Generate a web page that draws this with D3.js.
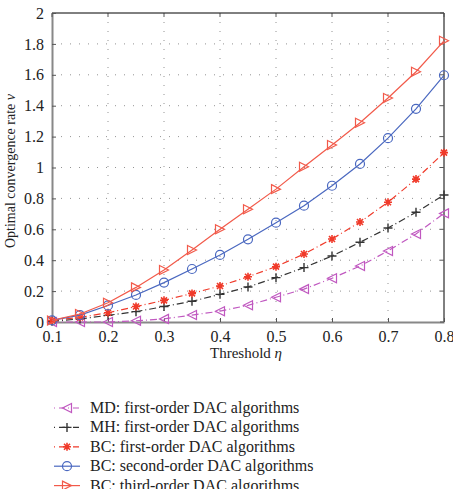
<!DOCTYPE html>
<html><head><meta charset="utf-8">
<script src="https://cdn.jsdelivr.net/npm/d3@7"></script>
<style>body{margin:0;background:#fff;} svg text{font-family:'Liberation Serif','DejaVu Serif',serif !important;}</style>
</head><body><svg id="c" width="453" height="489"></svg>
<script>
const thresholds = [0.1,0.15,0.2,0.25,0.3,0.35,0.4,0.45,0.5,0.55,0.6,0.65,0.7,0.75,0.8];
const mdFirst = [0.0,0.0,0.0,0.008,0.02,0.045,0.07,0.108,0.16,0.213,0.283,0.362,0.46,0.57,0.703];
const mhFirst = [0.005,0.02,0.043,0.067,0.1,0.134,0.179,0.227,0.287,0.352,0.427,0.516,0.608,0.71,0.822];
const bcFirst = [0.01,0.03,0.06,0.1,0.14,0.185,0.233,0.293,0.358,0.44,0.537,0.647,0.775,0.925,1.096];
const bcSecond = [0.01,0.045,0.107,0.175,0.255,0.343,0.434,0.535,0.643,0.753,0.882,1.023,1.19,1.38,1.597];
const bcThird = [0.01,0.052,0.125,0.224,0.337,0.466,0.6,0.73,0.86,1.005,1.146,1.29,1.45,1.62,1.82];
const xTicks = [0.1,0.2,0.3,0.4,0.5,0.6,0.7,0.8];
const yTicks = [0,0.2,0.4,0.6,0.8,1,1.2,1.4,1.6,1.8,2];
const seriesNames = ["MD: first-order DAC algorithms","MH: first-order DAC algorithms","BC: first-order DAC algorithms","BC: second-order DAC algorithms","BC: third-order DAC algorithms"];

const series = [
  {name:seriesNames[0], values:mdFirst, color:"#c058c0", dash:"7,3,1,3", marker:"triLeft"},
  {name:seriesNames[1], values:mhFirst, color:"#333333", dash:"7,3,1,3", marker:"plus"},
  {name:seriesNames[2], values:bcFirst, color:"#f03a2a", dash:"7,3,1,3", marker:"star"},
  {name:seriesNames[3], values:bcSecond, color:"#4a68c0", dash:null, marker:"circle"},
  {name:seriesNames[4], values:bcThird, color:"#f25a4a", dash:null, marker:"triRight"}
];

const svg = d3.select("#c");
const L=52, R=444, T=13, B=322;
const x = d3.scaleLinear().domain([0.1,0.8]).range([L,R]);
const y = d3.scaleLinear().domain([0,2]).range([B,T]);

// grid
const g = svg.append("g");
g.selectAll(".gx").data(xTicks.slice(1,-1)).enter().append("line")
  .attr("x1",d=>x(d)).attr("x2",d=>x(d)).attr("y1",T).attr("y2",B)
  .attr("stroke","#777").attr("stroke-width",0.8).attr("stroke-dasharray","1,8");
g.selectAll(".gy").data(yTicks.slice(1,-1)).enter().append("line")
  .attr("x1",L).attr("x2",R).attr("y1",d=>y(d)).attr("y2",d=>y(d))
  .attr("stroke","#777").attr("stroke-width",0.8).attr("stroke-dasharray","1,8");

// box
svg.append("line").attr("x1",L).attr("x2",R).attr("y1",T).attr("y2",T).attr("stroke","#000").attr("stroke-width",1);
svg.append("line").attr("x1",R).attr("x2",R).attr("y1",T).attr("y2",B).attr("stroke","#000").attr("stroke-width",1);

// axes
const xAxis = d3.axisBottom(x).tickValues(xTicks).tickFormat(d3.format(".1f")).tickSizeInner(-4).tickSizeOuter(0).tickPadding(9);
const yAxis = d3.axisLeft(y).tickValues(yTicks).tickFormat(d=>d===0?"0":(Number.isInteger(d)?String(d):d3.format(".1f")(d))).tickSizeInner(-4).tickSizeOuter(0).tickPadding(8);
const gx = svg.append("g").attr("transform",`translate(0,${B})`).call(xAxis);
const gy = svg.append("g").attr("transform",`translate(${L},0)`).call(yAxis);
[gx,gy].forEach(a=>{
  a.attr("font-family",null);
  a.select(".domain").attr("stroke","#888").attr("stroke-width",2);
  a.selectAll(".tick line").attr("stroke","#555");
  a.selectAll("text").attr("font-size",16).attr("fill","#222");
});
// top/right ticks
svg.selectAll(".tt").data(xTicks).enter().append("line").attr("x1",d=>x(d)).attr("x2",d=>x(d)).attr("y1",T).attr("y2",T+4).attr("stroke","#555");
svg.selectAll(".rt").data(yTicks).enter().append("line").attr("x1",R-4).attr("x2",R).attr("y1",d=>y(d)).attr("y2",d=>y(d)).attr("stroke","#555");

// labels
svg.append("text").attr("x",246).attr("y",358).attr("text-anchor","middle").attr("font-size",15).attr("fill","#222")
  .html('Threshold <tspan font-style="italic">η</tspan>');
svg.append("text").attr("transform",`translate(15,171) rotate(-90)`).attr("text-anchor","middle").attr("font-size",14).attr("fill","#222")
  .html('Optimal convergence rate <tspan font-style="italic">ν</tspan>');

function drawMarker(sel, type, color){
  const s=4.5;
  if(type==="circle") sel.append("circle").attr("r",4.5).attr("fill","none").attr("stroke",color).attr("stroke-width",1.2);
  else if(type==="triRight") sel.append("path").attr("d",`M${-s},${-s}L${s},0L${-s},${s}Z`).attr("fill","none").attr("stroke",color).attr("stroke-width",1.2);
  else if(type==="triLeft") sel.append("path").attr("d",`M${s},${-s}L${-s},0L${s},${s}Z`).attr("fill","none").attr("stroke",color).attr("stroke-width",1.2);
  else if(type==="plus") sel.append("path").attr("d",`M-4.5,0H4.5M0,-4.5V4.5`).attr("stroke",color).attr("stroke-width",1.4);
  else if(type==="star") sel.append("path").attr("d",`M-4,0H4M0,-4V4M-3,-3L3,3M-3,3L3,-3`).attr("stroke",color).attr("stroke-width",1.6);
}

const line = d3.line().x((d,i)=>x(thresholds[i])).y(d=>y(d));
series.forEach(s=>{
  svg.append("path").attr("d",line(s.values)).attr("fill","none").attr("stroke",s.color).attr("stroke-width",1.2)
    .attr("stroke-dasharray",s.dash);
  svg.append("g").selectAll("g").data(s.values).enter().append("g")
    .attr("transform",(d,i)=>`translate(${x(thresholds[i])},${y(d)})`)
    .each(function(){drawMarker(d3.select(this), s.marker, s.color);});
});

// legend
const leg = svg.append("g");
series.forEach((s,i)=>{
  const yy = 408 + i*19.4;
  leg.append("line").attr("x1",54).attr("x2",80).attr("y1",yy).attr("y2",yy).attr("stroke",s.color).attr("stroke-width",1.2).attr("stroke-dasharray",s.dash?"1,4,6,3":null);
  const m = leg.append("g").attr("transform",`translate(67,${yy})`);
  drawMarker(m, s.marker, s.color);
  leg.append("text").attr("x",90).attr("y",yy+5).attr("font-size",16).attr("fill","#222").text(s.name);
});
</script></body></html>
